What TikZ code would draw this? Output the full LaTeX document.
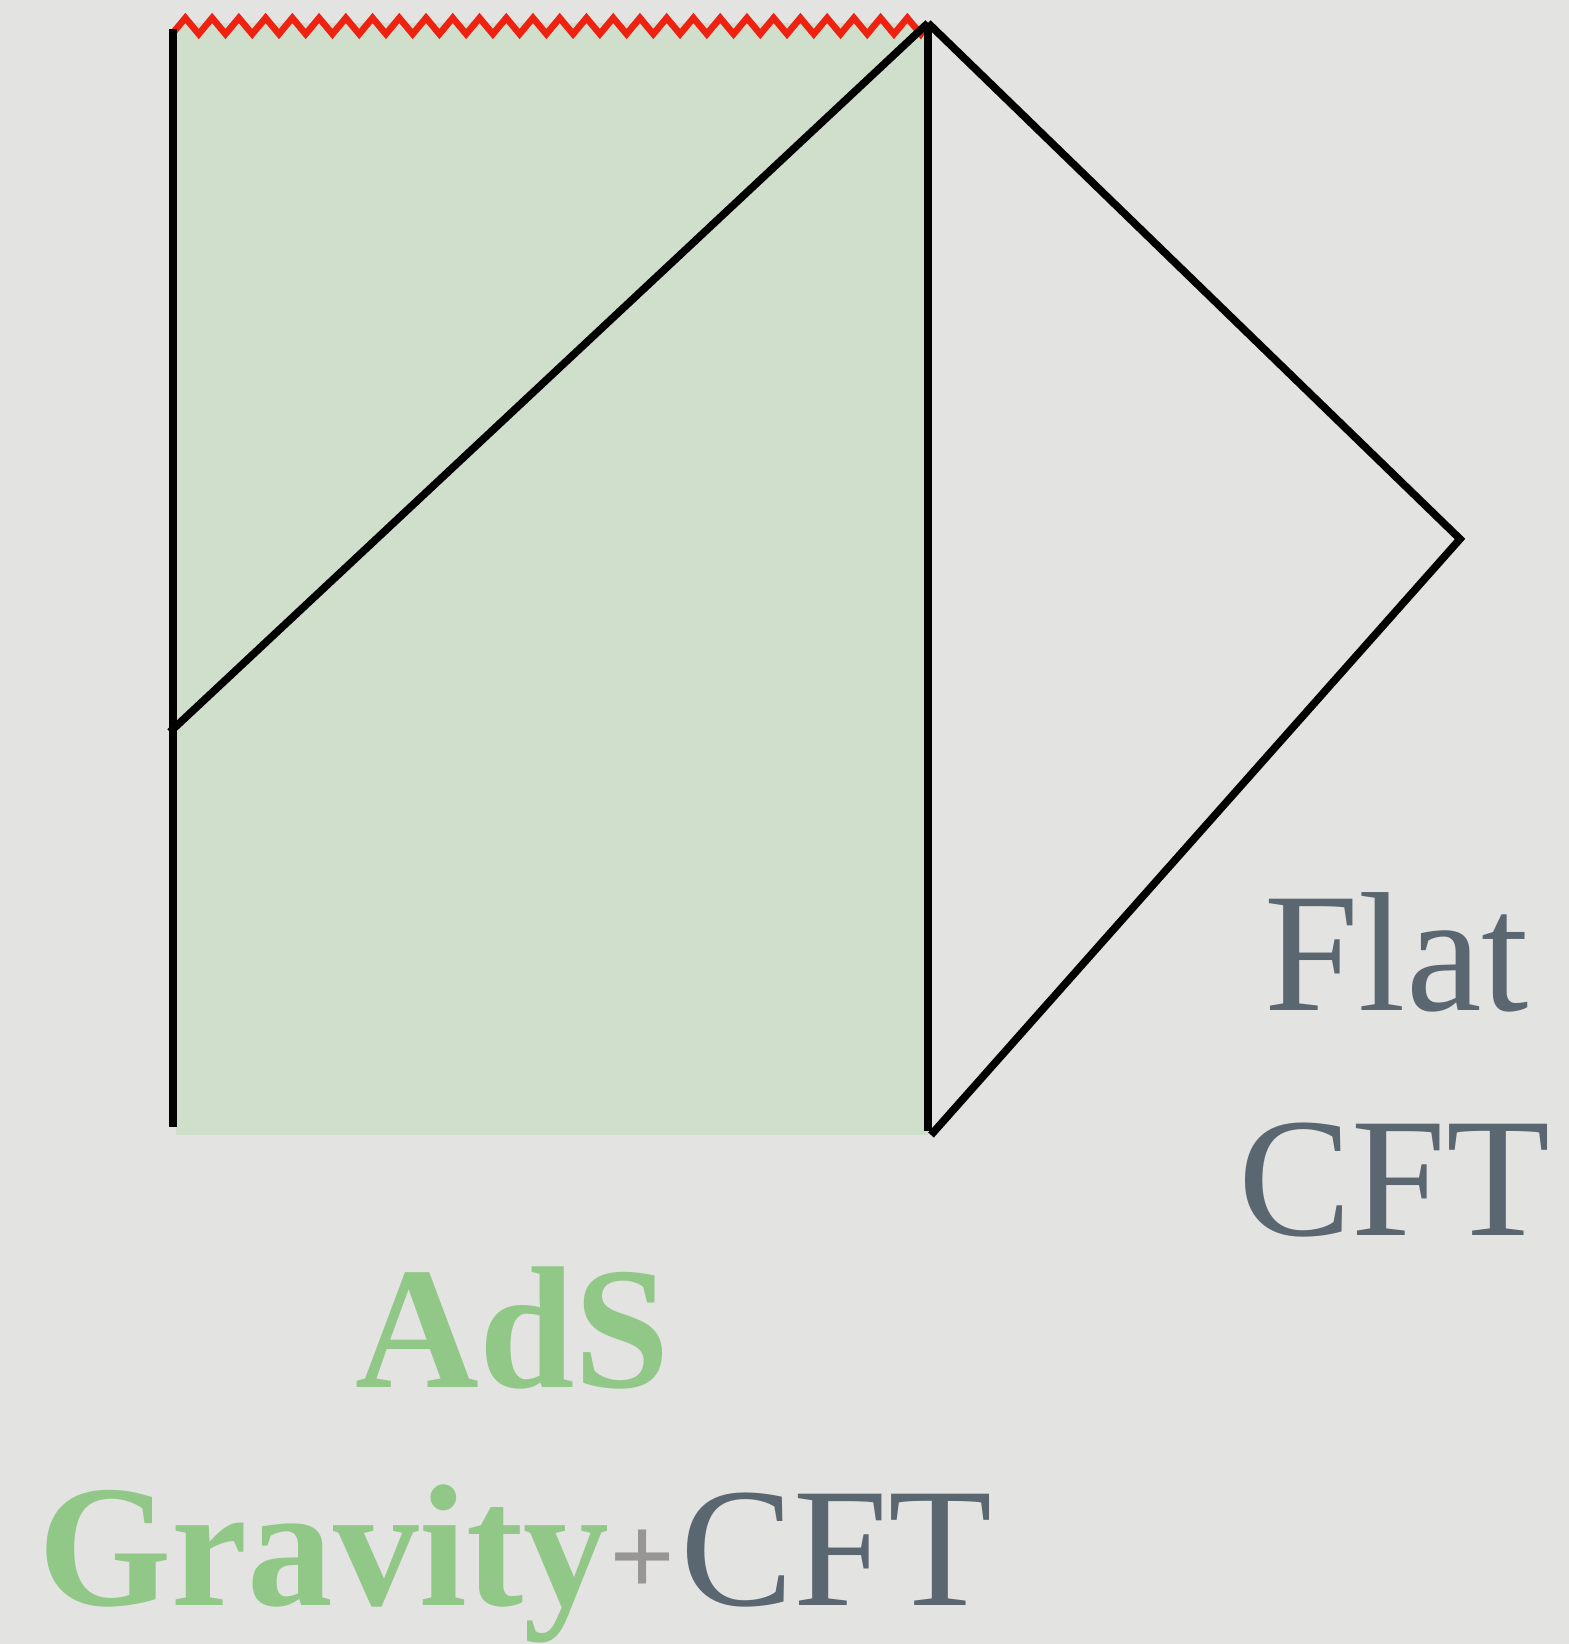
\documentclass[tikz,border=0pt]{standalone}
\usepackage{fontspec}
\setmainfont{Liberation Serif}
\definecolor{bgc}{RGB}{227,227,225}
\definecolor{adsfill}{RGB}{208,222,204}
\definecolor{adsgreen}{RGB}{145,200,135}
\definecolor{slate}{RGB}{90,103,112}
\definecolor{plusgray}{RGB}{152,150,147}
\definecolor{singred}{RGB}{238,34,17}
\tikzset{
  edge/.style={line width=3.8pt, black},
  sing/.style={line width=3.3pt, singred, line join=miter},
  lbl/.style={inner sep=0pt, anchor=base west},
  cftlbl/.style={lbl, text=slate, font=\fontsize{85}{92}\selectfont},
  adslbl/.style={lbl, text=adsgreen, font=\fontsize{87}{94}\selectfont\bfseries, xscale=0.985},
}
\begin{document}
\begin{tikzpicture}[x=0.5pt,y=-0.5pt]
\fill[bgc] (0,0) rectangle (1569,1644);
\useasboundingbox (0,0) rectangle (1569,1644);
% key points
\coordinate (tl) at (173,29);
\coordinate (bl) at (173,1127);
\coordinate (top) at (928,23);
\coordinate (bot) at (928,1131);
\coordinate (right) at (1460,539);
\coordinate (dbot) at (931,1135);
\coordinate (dleft) at (170,732);
% AdS region
\fill[adsfill] (176,23) rectangle (928,1135);
% singularity
\draw[sing] (172,34) \foreach \k in {0,...,27} { -- ({172+26.74*\k+13.37},18) -- ({172+26.74*(\k+1)},34) } -- (top);
% boundaries
\draw[edge] (tl) -- (bl);
\draw[edge] (top) -- (bot);
\draw[edge] (dleft) -- (top);
\draw[edge] (top) -- (right) -- (dbot);
% labels
\node[cftlbl] (flat) at (1264,1010) {Flat};
\node[cftlbl] (cft1) at (1238,1235) {CFT};
\node[adslbl] (ads) at (355,1387) {AdS};
\node[adslbl] (grav) at (38,1605) {Gravity};
\node[inner sep=0pt, text=plusgray, font=\fontsize{58}{62}\selectfont\bfseries] (plus) at (643,1563) {+};
\node[cftlbl] (cft2) at (680,1605) {CFT};
\end{tikzpicture}
\end{document}
